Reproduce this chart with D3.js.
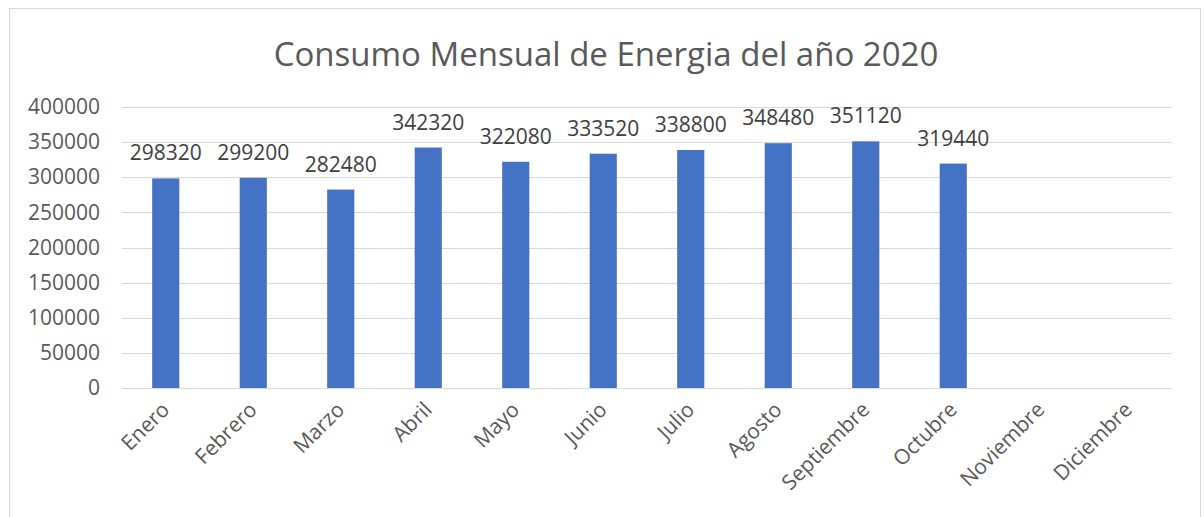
<!DOCTYPE html>
<html>
<head>
  <title>Consumo Mensual de Energia</title>
  <script src="https://d3js.org/d3.v7.min.js"></script>
  <style>
    body { margin: 0; background: #fff; }
    svg { display: block; }
  </style>
</head>
<body>
  <script>
    const months = ["Enero", "Febrero", "Marzo", "Abril", "Mayo", "Junio", "Julio",
      "Agosto", "Septiembre", "Octubre", "Noviembre", "Diciembre"];
    const consumo = [298320, 299200, 282480, 342320, 322080, 333520, 338800,
      348480, 351120, 319440, null, null];
    const yTicks = [0, 50000, 100000, 150000, 200000, 250000, 300000, 350000, 400000];
    const title = "Consumo Mensual de Energia del año 2020";

    const W = 1204, H = 517;
    const margin = { top: 107, right: 32, bottom: 129, left: 122 };
    const width = W - margin.left - margin.right;
    const height = H - margin.top - margin.bottom;

    const svg = d3.select("body").append("svg")
      .attr("width", W)
      .attr("height", H)
      .style("font-family", "'Open Sans', sans-serif");

    // chart frame
    svg.append("rect")
      .attr("x", 9.5).attr("y", 8.5)
      .attr("width", 1191).attr("height", 520)
      .attr("fill", "#fff")
      .attr("stroke", "#d9d9d9");

    svg.append("text")
      .attr("x", 606).attr("y", 66)
      .attr("text-anchor", "middle")
      .attr("fill", "#595959")
      .style("font-size", "33px")
      .text(title);

    const g = svg.append("g")
      .attr("transform", `translate(${margin.left},${margin.top})`);

    const x = d3.scaleBand().domain(months).range([0, width]).paddingInner(0.69).paddingOuter(0.345);
    const y = d3.scaleLinear().domain([0, 400000]).range([height, 0]);

    // gridlines
    g.append("g")
      .selectAll("line")
      .data(yTicks)
      .join("line")
      .attr("x1", 0).attr("x2", width)
      .attr("y1", d => Math.round(y(d)) + 0.5)
      .attr("y2", d => Math.round(y(d)) + 0.5)
      .attr("stroke", "#d9d9d9")
      .attr("stroke-width", 1);

    // y axis labels
    const yAxis = g.append("g")
      .call(d3.axisLeft(y).tickValues(yTicks).tickSize(0).tickPadding(22).tickFormat(d3.format("d")));
    yAxis.select(".domain").remove();
    yAxis.selectAll("text")
      .attr("fill", "#595959")
      .style("font-size", "21px")
      .style("font-family", "'Open Sans', sans-serif");

    // bars
    const present = months.map((m, i) => ({ m, v: consumo[i] })).filter(d => d.v != null);
    g.selectAll(".bar")
      .data(present)
      .join("rect")
      .attr("class", "bar")
      .attr("x", d => x(d.m))
      .attr("y", d => y(d.v))
      .attr("width", x.bandwidth())
      .attr("height", d => height - y(d.v))
      .attr("fill", "#4472c4");

    // data labels
    g.selectAll(".lbl")
      .data(present)
      .join("text")
      .attr("class", "lbl")
      .attr("x", d => x(d.m) + x.bandwidth() / 2)
      .attr("y", d => y(d.v) - 18)
      .attr("text-anchor", "middle")
      .attr("fill", "#404040")
      .style("font-size", "21px")
      .text(d => d.v);

    // x axis labels
    const xAxis = g.append("g")
      .attr("transform", `translate(0,${height})`)
      .call(d3.axisBottom(x).tickSize(0).tickPadding(0));
    xAxis.select(".domain").remove();
    xAxis.selectAll("text")
      .attr("fill", "#595959")
      .style("font-size", "21px")
      .style("font-family", "'Open Sans', sans-serif")
      .attr("text-anchor", "end")
      .attr("dy", null)
      .attr("y", 0)
      .attr("transform", "translate(5,23) rotate(-45)");
  </script>
</body>
</html>
